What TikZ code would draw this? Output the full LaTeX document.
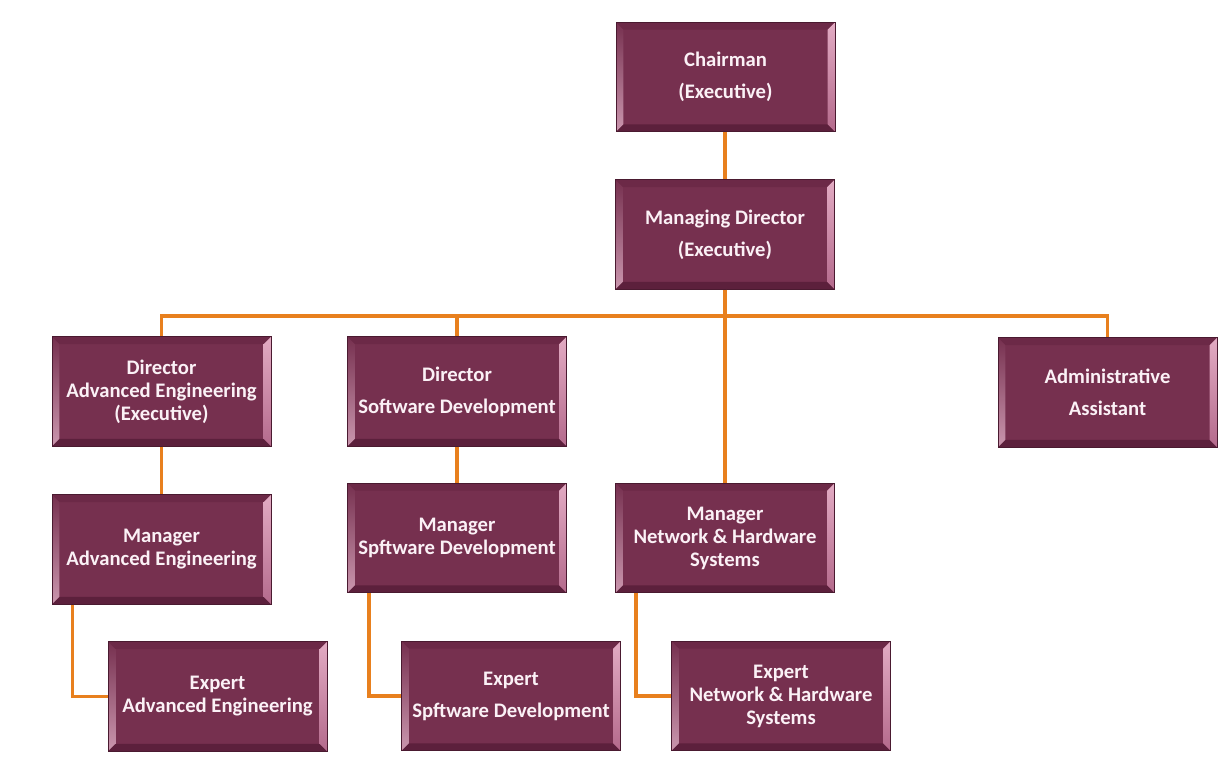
\documentclass[tikz,border=0pt]{standalone}
\usepackage{fontspec}
\setmainfont{Carlito}
\usetikzlibrary{calc}
\definecolor{boxmain}{HTML}{76304F}
\definecolor{boxedge}{HTML}{4A1A30}
\definecolor{bevtop}{HTML}{6C2947}
\definecolor{bevbot}{HTML}{5C203C}
\definecolor{bevpinkA}{HTML}{E2ABC3}
\definecolor{bevpinkB}{HTML}{B46A8C}
\definecolor{boxtext}{HTML}{FBF1F6}
\definecolor{conn}{HTML}{E8801E}
\begin{document}
\begin{tikzpicture}[x=0.75pt,y=-0.75pt,
  box/.style={draw=boxedge, line width=0.6pt, fill=boxmain,
    minimum width=164.25pt, minimum height=82pt, inner sep=0pt,
    text=boxtext, font=\bfseries\fontsize{15.5}{17.25}\selectfont, align=center,
    path picture={
      \coordinate (bnw) at (path picture bounding box.north west);
      \coordinate (bse) at (path picture bounding box.south east);
      \coordinate (bne) at (bnw -| bse);
      \coordinate (bsw) at (bnw |- bse);
      \coordinate (inw) at ($(bnw)+(5.5pt,-5.5pt)$);
      \coordinate (ise) at ($(bse)+(-5.5pt,5.5pt)$);
      \coordinate (ine) at (inw -| ise);
      \coordinate (isw) at (inw |- ise);
      \fill[bevtop] (bnw) -- (bne) -- (ine) -- (inw) -- cycle;
      \fill[bevbot] (bsw) -- (bse) -- (ise) -- (isw) -- cycle;
      \shade[top color=boxmain, bottom color=bevpinkB!70!white] (bnw) -- (inw) -- (isw) -- (bsw) -- cycle;
      \shade[top color=bevpinkA, bottom color=bevpinkB] (bne) -- (ine) -- (ise) -- (bse) -- cycle;
    }},
  link/.style={draw=conn, line width=2.8pt}]
\useasboundingbox (0,0) rectangle (1224,759);
\fill[white] (0,0) rectangle (1224,759);

\coordinate (bus) at (0,316);

\node[box] (ch)    at (725.5,77)   {Chairman\\[6.75pt](Executive)};
\node[box] (md)    at (725,234.5)  {Managing Director\\[6.75pt](Executive)};
\node[box] (dirae) at (161.5,391.5) {Director\\Advanced Engineering\\(Executive)};
\node[box] (dirsd) at (457,391.5)  {Director\\[6.75pt]Software Development};
\node[box] (adm)   at (1107.5,392.5) {Administrative\\[6.75pt]Assistant};
\node[box] (mgrae) at (161.5,549.5) {Manager\\Advanced Engineering};
\node[box] (mgrsd) at (457,538)    {Manager\\Spftware Development};
\node[box] (mgrnh) at (725,538)    {Manager\\Network \& Hardware\\Systems};
\node[box] (expae) at (217.5,696.5) {Expert\\Advanced Engineering};
\node[box] (expsd) at (511,696)    {Expert\\[6.75pt]Spftware Development};
\node[box] (expnh) at (781,696)    {Expert\\Network \& Hardware\\Systems};

\draw[link] (ch.south -| md.south) -- (md.north);
\draw[link] (md.south) -- (mgrnh.north);
\draw[link] (dirae.north) -- (dirae.north |- bus) -| (adm.north);
\draw[link] (dirsd.north) -- (dirsd.north |- bus);
\draw[link] (dirae.south) -- (mgrae.north);
\draw[link] (dirsd.south) -- (mgrsd.north);
\draw[link] ([xshift=21*0.75pt]mgrae.south west) |- (expae.west);
\draw[link] ([xshift=22*0.75pt]mgrsd.south west) |- (expsd.west);
\draw[link] ([xshift=21*0.75pt]mgrnh.south west) |- (expnh.west);
\end{tikzpicture}
\end{document}
